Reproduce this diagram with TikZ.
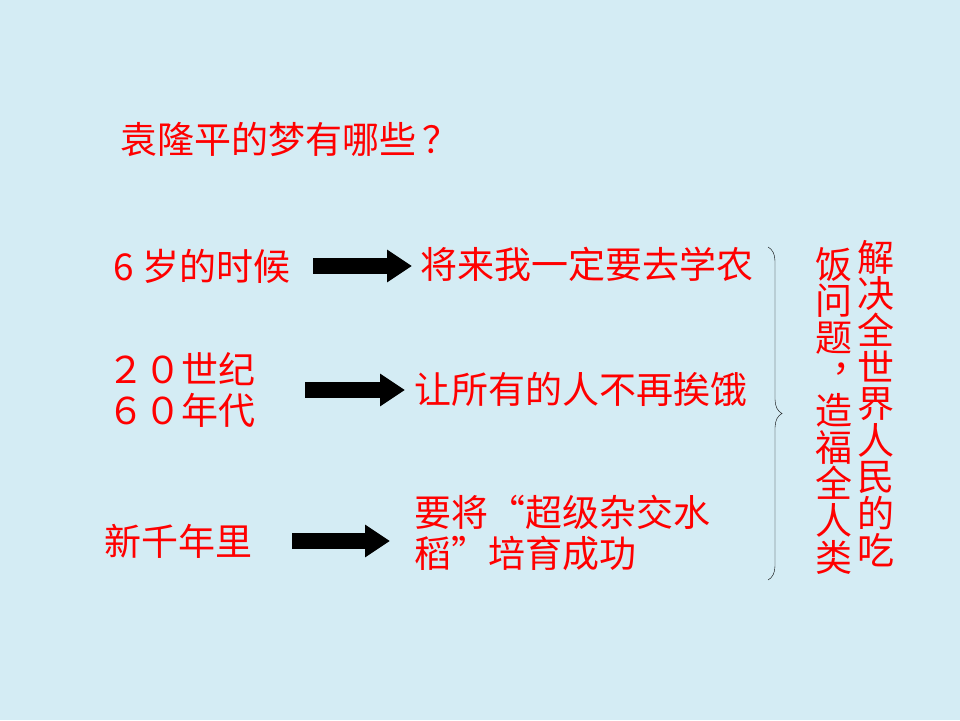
\documentclass[tikz,border=0pt]{standalone}
\usepackage{fontspec}
\usepackage{xcolor}
\usepackage{tikz}
\usetikzlibrary{arrows.meta,decorations.pathreplacing}
\newfontfamily\cjk{Noto Sans CJK SC}
\definecolor{slidebg}{RGB}{212,236,244}

\begin{document}
\begin{tikzpicture}[
  x=1pt, y=-1pt,
  font=\cjk\fontsize{37}{41}\selectfont,
  txt/.style={text=red, inner sep=0pt, anchor=west, align=left},
  col/.style={text=red, inner sep=0pt, anchor=north, align=center, font=\cjk\fontsize{37}{36.6}\selectfont},
  arr/.style={-{Triangle[length=25pt,width=31pt]}, line width=16pt},
  brc/.style={decorate, decoration={brace, amplitude=14pt}, thin}]
\fill[slidebg] (0,0) rectangle (960,720);
\useasboundingbox (0,0) rectangle (960,720);
\node[txt] (q) at (120,139) {袁隆平的梦有哪些\hspace{6pt}？};
% left column
\node[txt] (six) at (113,266) {6 岁的时候};
\node[txt] (era) at (107,390) {２０世纪\\６０年代};
\node[txt] (mill) at (104,541) {新千年里};
% dreams
\node[txt] (jiang) at (420,264) {将来我一定要去学农};
\node[txt] (rang) at (414,389) {让所有的人不再挨饿};
\node[txt] (rice) at (414,533) {要将“超级杂交水\\稻”培育成功};
\foreach \a/\b/\s/\e in {six/jiang/23/8, era/rang/50/9, mill/rice/40/24}
  \draw[arr, shorten <=\s pt, shorten >=\e pt] (\a.east) -- (\a.east -| \b.west);
% brace and vertical text
\coordinate (btop) at (768,247);
\coordinate (bbot) at (768,580);
\draw[brc] (btop) -- (bbot);
\node[col] (goal1) at (876,240) {解\\决\\全\\世\\界\\人\\民\\的\\吃};
\node[col] (goal2) at (834,247) {饭\\问\\题\\\makebox[37pt][l]{\hspace*{17pt}\smash{\raisebox{17pt}{，}}}\\造\\福\\全\\人\\类};
\end{tikzpicture}
\end{document}
